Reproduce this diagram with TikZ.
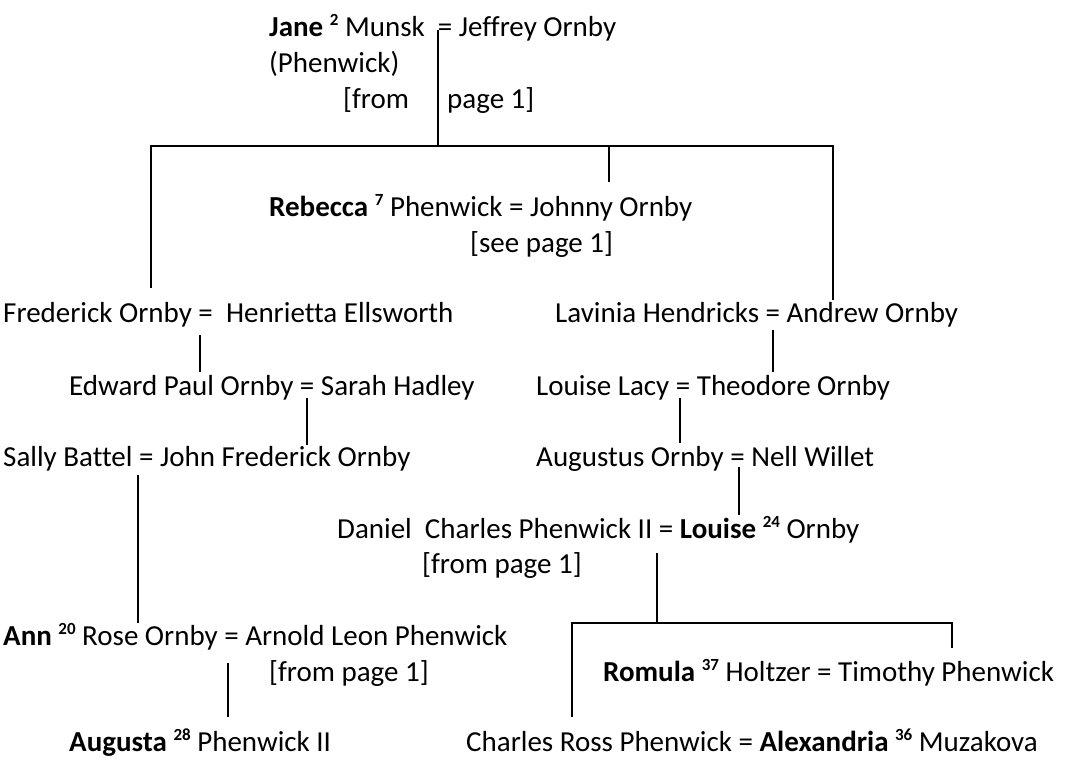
\documentclass[tikz,border=0pt]{standalone}
\usepackage{fontspec}
\setmainfont{Carlito}[Ligatures=NoCommon]
\newcommand\gno[1]{\raisebox{11pt}{\fontsize{17}{17}\selectfont\bfseries #1}}
\tikzset{
  person/.style={anchor=base west, inner sep=0pt, font=\fontsize{29}{35}\selectfont},
  line/.style={line width=1.3pt},
}
\begin{document}
\begin{tikzpicture}[x=1pt,y=-1pt]
\useasboundingbox (0,0) rectangle (1067,760);
% couples, top to bottom
\node[person] (jane) at (269,37) {\textbf{Jane} \gno{2} Munsk\ \ = Jeffrey Ornby};
\node[person] (janeb) at (269,73) {(Phenwick)};
\node[person] (janefrom) at (343,108) {[from};
\node[person] (janepage) at (447,108) {page 1]};
\node[person] (rebecca) at (269,216) {\textbf{Rebecca} \gno{7} Phenwick = Johnny Ornby};
\node[person] (rebsee) at (470,252) {[see page 1]};
\node[person] (frederick) at (3,322) {Frederick Ornby =\ \ Henrietta Ellsworth};
\node[person] (lavinia) at (555,322) {Lavinia Hendricks = Andrew Ornby};
\node[person] (edward) at (69,395) {Edward Paul Ornby = Sarah Hadley};
\node[person] (lacy) at (536,395) {Louise Lacy = Theodore Ornby};
\node[person] (sally) at (3,466) {Sally Battel = John Frederick Ornby};
\node[person] (augustus) at (536,466) {Augustus Ornby = Nell Willet};
\node[person] (daniel) at (337,538) {Daniel\ \ Charles Phenwick II = \textbf{Louise} \gno{24} Ornby};
\node[person] (danfrom) at (422,573) {[from page 1]};
\node[person] (ann) at (3,645) {\textbf{Ann} \gno{20} Rose Ornby = Arnold Leon Phenwick};
\node[person] (annfrom) at (269,681) {[from page 1]};
\node[person] (romula) at (603,681) {\textbf{Romula} \gno{37} Holtzer = Timothy Phenwick};
\node[person] (augusta) at (69,751) {\textbf{Augusta} \gno{28} Phenwick II};
\node[person] (charles) at (466,751) {Charles Ross Phenwick = \textbf{Alexandria} \gno{36} Muzakova};
% line ends
\coordinate (jo) at (438,30);
\coordinate (jofork) at (438,146);
\coordinate (fo) at (151,288);
\coordinate (ro) at (609,182);
\coordinate (ao) at (833,300);
\coordinate (fh) at (200,335);
\coordinate (ep) at (200,372);
\coordinate (es) at (307,398);
\coordinate (jf) at (307,445);
\coordinate (sj) at (138,475);
\coordinate (ar) at (138,623);
\coordinate (aa) at (228,663);
\coordinate (ap) at (228,717);
\coordinate (la) at (773,330);
\coordinate (ll) at (773,372);
\coordinate (lt) at (680,398);
\coordinate (au) at (680,443);
\coordinate (an) at (739,467);
\coordinate (dl) at (739,515);
\coordinate (dc) at (657,553);
\coordinate (dcfork) at (657,623);
\coordinate (cr) at (572,717);
\coordinate (rh) at (952,648);
% connectors
\draw[line] (jo) -- (jofork);
\draw[line] (fo) |- (jofork) -| (ao);
\draw[line] (ro) -- (ro |- jofork);
\draw[line] (fh) -- (ep);
\draw[line] (es) -- (jf);
\draw[line] (sj) -- (ar);
\draw[line] (aa) -- (ap);
\draw[line] (la) -- (ll);
\draw[line] (lt) -- (au);
\draw[line] (an) -- (dl);
\draw[line] (dc) -- (dcfork);
\draw[line] (cr) |- (dcfork) -| (rh);
\end{tikzpicture}
\end{document}
